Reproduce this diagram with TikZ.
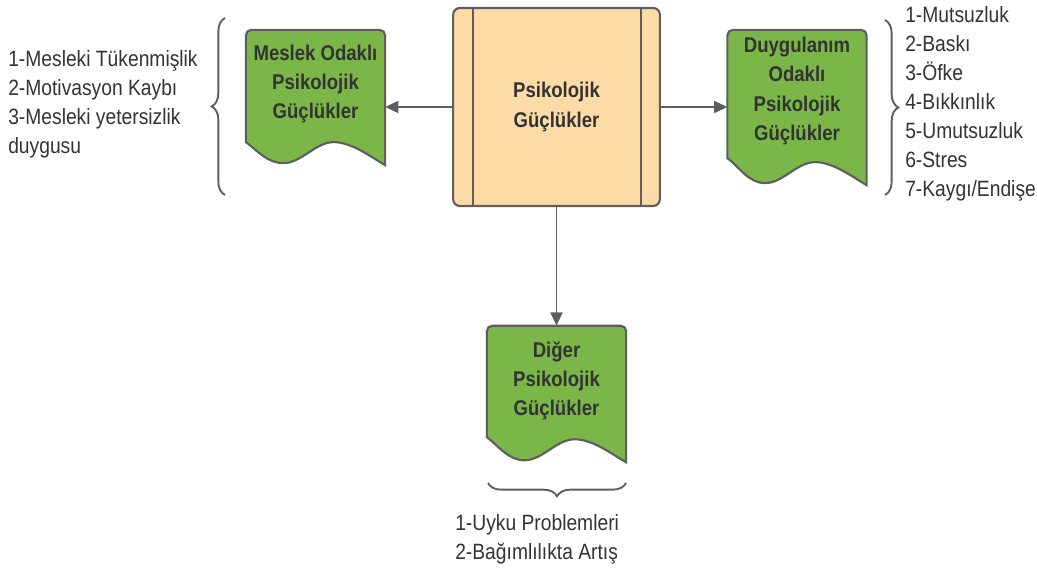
\documentclass[tikz,border=0pt]{standalone}
\usepackage{fontspec}
\setmainfont[FakeStretch=0.87]{Liberation Sans}
\usetikzlibrary{arrows.meta,positioning,calc,decorations.pathreplacing}

\definecolor{docgreen}{HTML}{7AB648}
\definecolor{peach}{HTML}{FDDBA7}
\definecolor{edge}{HTML}{5E5E5E}
\definecolor{ink}{HTML}{333333}

\tikzset{
  docline/.style={draw=edge, line width=1.6pt, fill=docgreen},
  docbox/.style={inner sep=0pt, minimum width=104pt},
  doclbl/.style={text=ink, font=\bfseries\fontsize{16pt}{22pt}\selectfont, align=center},
  mainbox/.style={doclbl, draw=edge, fill=peach, rounded corners=5pt, line width=1.6pt,
    minimum width=155pt, minimum height=148.5pt},
  listtxt/.style={text=ink, font=\fontsize{16.6pt}{21.75pt}\selectfont, align=left, inner sep=0pt},
  arr/.style={draw=edge, line width=1.4pt, -{Triangle[length=10pt,width=9pt]}},
  brc/.style={draw=edge, line width=1.4pt, decorate, decoration={brace, amplitude=10pt}},
}

% document shape round a node: name, rise of the left corner
\newcommand\docshape[2]{%
  \draw[docline] ($(#1.south west)+(0,-#2)$)
    [rounded corners=4pt] -- (#1.north west) -- (#1.north east)
    [sharp corners] -- (#1.south east)
    .. controls ($(#1.south west)!0.9!(#1.south east)+(0,-8)$)
       and ($(#1.south west)!0.76!(#1.south east)+(0,-23)$)
    .. ($(#1.south west)!0.63!(#1.south east)+(0,-23)$)
    .. controls ($(#1.south west)!0.5!(#1.south east)+(0,-23)$)
       and ($(#1.south west)!0.4!(#1.south east)+(0,-2)$)
    .. ($(#1.south west)!0.27!(#1.south east)+(0,-2)$)
    .. controls ($(#1.south west)!0.15!(#1.south east)+(0,-2)$)
       and ($(#1.south west)!0.08!(#1.south east)+(0,-#2+8)$)
    .. ($(#1.south west)+(0,-#2)$) -- cycle;
}

\begin{document}
\begin{tikzpicture}[x=0.75pt, y=-0.75pt]

\useasboundingbox (0,0) rectangle (1037,571);

% centre
\node[mainbox] (psiko) at (556.5,107) {Psikolojik\\Güçlükler};
\draw[draw=edge, line width=1.6pt] ($(psiko.north west)+(21,0)$) -- ($(psiko.south west)+(21,0)$);
\draw[draw=edge, line width=1.6pt] ($(psiko.north east)+(-20,0)$) -- ($(psiko.south east)+(-20,0)$);

% documents
\node[docbox, minimum height=101pt] (meslek) at (315.5,97.5) {};
\node[docbox, minimum height=116pt] (duygu) at (797,107.5) {};
\node[docbox, minimum height=102pt] (diger) at (556.5,394) {};

\docshape{meslek}{23}
\docshape{duygu}{27}
\docshape{diger}{25}

\node[doclbl] (mesleklbl) at (315.5,84) {Meslek Odaklı\\Psikolojik\\Güçlükler};
\node[doclbl] (duygulbl) at (797,91) {Duygulanım\\Odaklı\\Psikolojik\\Güçlükler};
\node[doclbl] (digerlbl) at (556.5,381) {Diğer\\Psikolojik\\Güçlükler};

% arrows
\draw[arr] (psiko.west) -- (psiko.west -| meslek.east);
\draw[arr] (psiko.east) -- (psiko.east -| duygu.west);
\draw[arr] (psiko.south) -- (diger.north);

% braces
\draw[brc] (225,195) -- (225,18);
\draw[brc] (885,20) -- (885,195);
\draw[brc, decoration={mirror}] (488,483) -- (626,483);

% lists
\node[listtxt, anchor=west] (mesleklist) at (8,104)
  {1-Mesleki Tükenmişlik\\2-Motivasyon Kaybı\\3-Mesleki yetersizlik\\duygusu};
\node[listtxt, anchor=west] (duygulist) at (905,104)
  {1-Mutsuzluk\\2-Baskı\\3-Öfke\\4-Bıkkınlık\\5-Umutsuzluk\\6-Stres\\7-Kaygı/Endişe};
\node[listtxt, anchor=west] (digerlist) at (455,539)
  {1-Uyku Problemleri\\2-Bağımlılıkta Artış};

\end{tikzpicture}
\end{document}
